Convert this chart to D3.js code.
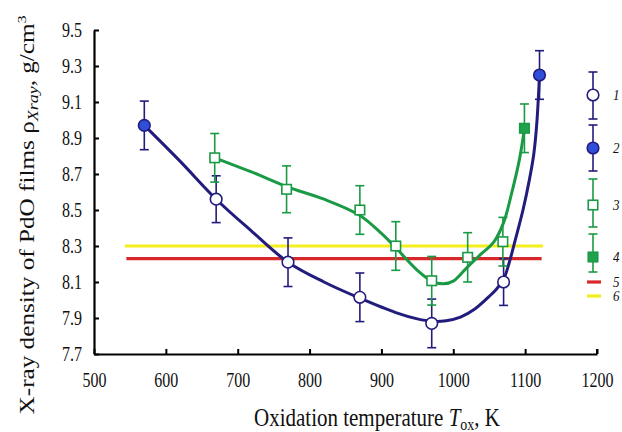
<!DOCTYPE html>
<html><head><meta charset="utf-8">
<script src="https://cdn.jsdelivr.net/npm/d3@7"></script>
<style>html,body{margin:0;padding:0;background:#fff;}svg{display:block;}</style>
</head><body>
<script>
// ---- data ----
const xTicks = [500, 600, 700, 800, 900, 1000, 1100, 1200];
const yTicks = [7.7, 7.9, 8.1, 8.3, 8.5, 8.7, 8.9, 9.1, 9.3, 9.5];
const yTickLabels = ["7.7","7.9","8.1","8.3","8.5","8.7","8.9","9.1","9.3","9.5"];

const s1T = [670, 770, 870, 970, 1070];
const s1Rho = [8.56, 8.21, 8.015, 7.87, 8.10];
const s1Err = [0.13, 0.135, 0.135, 0.135, 0.13];

const s2T = [570, 1120];
const s2Rho = [8.97, 9.25];
const s2Err = [0.135, 0.135];

const s3T = [668, 768, 870, 920, 970, 1020, 1069];
const s3Rho = [8.79, 8.615, 8.50, 8.30, 8.107, 8.237, 8.324];
const s3Err = [0.135, 0.13, 0.135, 0.135, 0.135, 0.137, 0.135];

const s4T = [1099];
const s4Rho = [8.954];
const s4Err = [0.135];

const line5T = [545, 1123];
const line5Rho = [8.23, 8.23];
const line6T = [543, 1125];
const line6Rho = [8.30, 8.30];

const fit1T = [570, 620, 670, 720, 770, 820, 870, 920, 950, 970, 990, 1010, 1030, 1050, 1060, 1070, 1078, 1086, 1097, 1106, 1112, 1116, 1120];
const fit1Rho = [8.97, 8.77, 8.56, 8.38, 8.21, 8.10, 8.01, 7.93, 7.895, 7.882, 7.885, 7.905, 7.95, 8.02, 8.06, 8.115, 8.21, 8.33, 8.50, 8.67, 8.81, 8.97, 9.25];

const fit3T = [668, 720, 768, 820, 870, 900, 920, 950, 970, 986, 1000, 1019, 1040, 1056, 1070, 1081, 1092, 1099];
const fit3Rho = [8.79, 8.71, 8.63, 8.56, 8.47, 8.37, 8.29, 8.165, 8.105, 8.09, 8.105, 8.18, 8.26, 8.32, 8.43, 8.59, 8.78, 8.95];

const legendLabels = ["1", "2", "3", "4", "5", "6"];

// ---- styles ----
const NAVY = "#221c7c", BLUE = "#2f4fd8", GREEN = "#1b9a45", GREENF = "#1fa34e", RED = "#d8282a", YEL = "#f3ee1c";
const FONT = "'Liberation Serif','Times New Roman',serif";
const STRETCH = 1.25;

const W = 622, H = 432;
const svg = d3.select("body").append("svg").attr("width", W).attr("height", H);

const x = d3.scaleLinear().domain([500, 1200]).range([94, 597]);
const y = d3.scaleLinear().domain([7.7, 9.5]).range([354, 30]);

const zip = (a, b) => a.map((v, i) => [v, b[i]]);
const line = d3.line().x(d => x(d[0])).y(d => y(d[1]));

// horizontal reference lines
svg.append("path").datum(zip(line6T, line6Rho)).attr("d", line).attr("stroke", YEL).attr("stroke-width", 3.2).attr("fill", "none");
svg.append("path").datum(zip(line5T, line5Rho)).attr("d", line).attr("stroke", RED).attr("stroke-width", 3.2).attr("fill", "none");

// fitted curves
const smooth = d3.line().x(d => x(d[0])).y(d => y(d[1])).curve(d3.curveCatmullRom.alpha(0.5));
svg.append("path").datum(zip(fit3T, fit3Rho)).attr("d", smooth).attr("stroke", GREEN).attr("stroke-width", 3).attr("fill", "none");
svg.append("path").datum(zip(fit1T, fit1Rho)).attr("d", smooth).attr("stroke", NAVY).attr("stroke-width", 3).attr("fill", "none");

// error bars
function errBars(T, R, E, color) {
  const g = svg.append("g").attr("stroke", color).attr("stroke-width", 1.6).attr("fill", "none");
  T.forEach((t, i) => {
    const cx = x(t), y1 = y(R[i] + E[i]), y2 = y(R[i] - E[i]);
    g.append("line").attr("x1", cx).attr("x2", cx).attr("y1", y1).attr("y2", y2);
    g.append("line").attr("x1", cx - 4.5).attr("x2", cx + 4.5).attr("y1", y1).attr("y2", y1);
    g.append("line").attr("x1", cx - 4.5).attr("x2", cx + 4.5).attr("y1", y2).attr("y2", y2);
  });
}
errBars(s1T, s1Rho, s1Err, NAVY);
errBars(s2T, s2Rho, s2Err, NAVY);
errBars(s3T, s3Rho, s3Err, GREEN);
errBars(s4T, s4Rho, s4Err, GREEN);

// markers
function circles(T, R, fill) {
  svg.append("g").selectAll("circle").data(T).join("circle")
    .attr("cx", d => x(d)).attr("cy", (d, i) => y(R[i])).attr("r", 5.8)
    .attr("fill", fill).attr("stroke", NAVY).attr("stroke-width", 1.6);
}
function squares(T, R, fill) {
  const s = 9.5;
  svg.append("g").selectAll("rect").data(T).join("rect")
    .attr("x", d => x(d) - s / 2).attr("y", (d, i) => y(R[i]) - s / 2).attr("width", s).attr("height", s)
    .attr("fill", fill).attr("stroke", GREEN).attr("stroke-width", 1.6);
}
circles(s1T, s1Rho, "#fff");
circles(s2T, s2Rho, BLUE);
squares(s3T, s3Rho, "#fff");
squares(s4T, s4Rho, GREENF);

// axes
const xAxis = d3.axisBottom(x).tickValues(xTicks).tickSizeInner(-5).tickSizeOuter(0).tickFormat(d3.format("d"));
const gx = svg.append("g").attr("transform", `translate(0,${y(7.7)})`).call(xAxis);
gx.select(".domain").attr("stroke", "#000").attr("stroke-width", 2.2);
gx.selectAll(".tick line").attr("stroke", "#000").attr("stroke-width", 2);
gx.selectAll(".tick text").attr("y", 0).attr("dy", 0)
  .attr("transform", `translate(0,33) scale(1,${STRETCH})`)
  .attr("font-family", FONT).attr("font-size", 16).attr("fill", "#111");

const yAxis = d3.axisLeft(y).tickValues(yTicks).tickSizeInner(-5).tickSizeOuter(0).tickFormat((d, i) => yTickLabels[i]);
const gy = svg.append("g").attr("transform", `translate(${x(500)},0)`).call(yAxis);
gy.select(".domain").attr("stroke", "#000").attr("stroke-width", 2.2);
gy.selectAll(".tick line").attr("stroke", "#000").attr("stroke-width", 2);
gy.selectAll(".tick text").attr("x", 0).attr("dy", 0).attr("text-anchor", "end")
  .attr("transform", `translate(-12,6) scale(1,${STRETCH})`)
  .attr("font-family", FONT).attr("font-size", 16).attr("fill", "#111");
// end tick at 1200
svg.append("line").attr("x1", x(1200)).attr("x2", x(1200)).attr("y1", y(7.7)).attr("y2", y(7.7) - 5).attr("stroke", "#000").attr("stroke-width", 2);

// axis titles
const xt = svg.append("text").attr("transform", `translate(377,426) scale(1,1.22)`)
  .attr("text-anchor", "middle").attr("font-family", FONT).attr("font-size", 21).attr("fill", "#111");
xt.append("tspan").text("Oxidation temperature ");
xt.append("tspan").attr("font-style", "italic").text("T");
xt.append("tspan").attr("font-size", 14).attr("dy", 3).text("ox");
xt.append("tspan").attr("dy", -3).text(", K");

const yt = svg.append("text").attr("transform", `translate(34,215) rotate(-90) scale(1.2,1)`)
  .attr("text-anchor", "middle").attr("font-family", FONT).attr("font-size", 21).attr("fill", "#111");
yt.append("tspan").text("X-ray density of PdO films ρ");
yt.append("tspan").attr("font-style", "italic").attr("font-size", 15).attr("dy", 4).text("Xray");
yt.append("tspan").attr("dy", -4).text(", g/cm");
yt.append("tspan").attr("font-size", 13).attr("dy", -8).text("3");

// legend
const LX = 593, TX = 613;
const legY = [95, 148, 205, 257, 282, 296];
const lg = svg.append("g");
function legBar(cy, up, down, color) {
  lg.append("line").attr("x1", LX).attr("x2", LX).attr("y1", cy - up).attr("y2", cy + down).attr("stroke", color).attr("stroke-width", 1.6);
  [cy - up, cy + down].forEach(v => lg.append("line").attr("x1", LX - 4.5).attr("x2", LX + 4.5).attr("y1", v).attr("y2", v).attr("stroke", color).attr("stroke-width", 1.6));
}
legBar(legY[0], 23, 24, NAVY);
lg.append("circle").attr("cx", LX).attr("cy", legY[0]).attr("r", 5.8).attr("fill", "#fff").attr("stroke", NAVY).attr("stroke-width", 1.6);
legBar(legY[1], 23, 23, NAVY);
lg.append("circle").attr("cx", LX).attr("cy", legY[1]).attr("r", 5.8).attr("fill", BLUE).attr("stroke", NAVY).attr("stroke-width", 1.6);
legBar(legY[2], 26, 22, GREEN);
lg.append("rect").attr("x", LX - 4.75).attr("y", legY[2] - 4.75).attr("width", 9.5).attr("height", 9.5).attr("fill", "#fff").attr("stroke", GREEN).attr("stroke-width", 1.6);
legBar(legY[3], 23, 15, GREEN);
lg.append("rect").attr("x", LX - 4.75).attr("y", legY[3] - 4.75).attr("width", 9.5).attr("height", 9.5).attr("fill", GREENF).attr("stroke", GREEN).attr("stroke-width", 1.6);
lg.append("line").attr("x1", LX - 6).attr("x2", LX + 8).attr("y1", legY[4]).attr("y2", legY[4]).attr("stroke", RED).attr("stroke-width", 3.2);
lg.append("line").attr("x1", LX - 6).attr("x2", LX + 8).attr("y1", legY[5]).attr("y2", legY[5]).attr("stroke", YEL).attr("stroke-width", 3.2);
legendLabels.forEach((t, i) => {
  lg.append("text").attr("transform", `translate(${TX},${legY[i] + 4.5}) scale(1,1.05)`)
    .attr("font-family", FONT).attr("font-style", "italic").attr("font-size", 13).attr("fill", "#111").text(t);
});
</script>
</body></html>
